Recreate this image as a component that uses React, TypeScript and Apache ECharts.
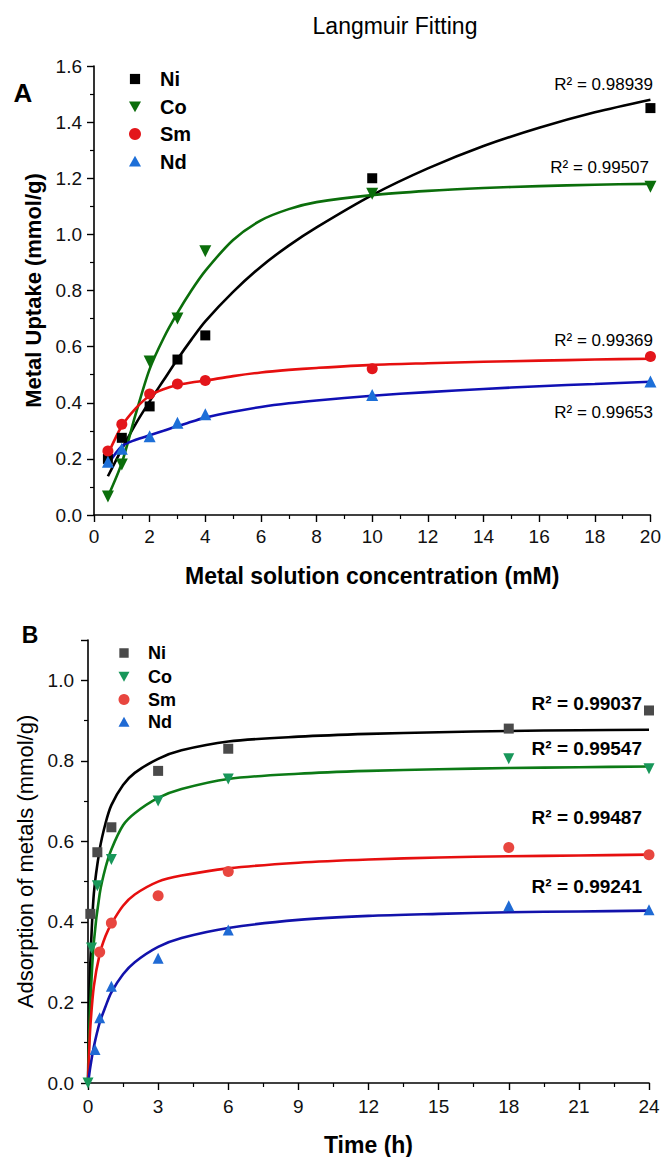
import React, { useEffect, useRef } from "react";
import * as echarts from "echarts";

const FONT = "'Liberation Sans', Arial, Helvetica, sans-serif";

// ---------- Panel A : Langmuir isotherm ----------
const concA = [0.5, 1, 2, 3, 4, 10, 20];
const niA = [0.2, 0.275, 0.387, 0.554, 0.64, 1.2, 1.45];
const coA = [0.066, 0.18, 0.547, 0.7, 0.94, 1.145, 1.17];
const smA = [0.228, 0.323, 0.431, 0.467, 0.479, 0.521, 0.565];
const ndA = [0.19, 0.236, 0.281, 0.329, 0.359, 0.428, 0.476];

const fitXA = [0.5, 1, 1.5, 2, 2.5, 3, 3.5, 4, 5, 6, 7, 8, 10, 12, 14, 16, 18, 20];
const niFitA = [0.138, 0.235, 0.325, 0.405, 0.48, 0.555, 0.625, 0.69, 0.795, 0.885, 0.96, 1.025, 1.14, 1.235, 1.315, 1.38, 1.435, 1.48];
const coFitA = [0.066, 0.186, 0.36, 0.52, 0.63, 0.72, 0.8, 0.87, 0.98, 1.05, 1.09, 1.115, 1.14, 1.155, 1.165, 1.172, 1.177, 1.18];
const smFitA = [0.216, 0.317, 0.38, 0.425, 0.448, 0.463, 0.472, 0.479, 0.495, 0.508, 0.517, 0.524, 0.535, 0.541, 0.546, 0.55, 0.554, 0.557];
const ndFitA = [0.18, 0.245, 0.268, 0.284, 0.3, 0.317, 0.332, 0.347, 0.368, 0.385, 0.398, 0.408, 0.425, 0.438, 0.449, 0.459, 0.467, 0.475];

const r2A = ["R² = 0.98939", "R² = 0.99507", "R² = 0.99369", "R² = 0.99653"];

// ---------- Panel B : kinetics ----------
const niTB = [0.1, 0.4, 1, 3, 6, 18, 24];
const niB = [0.42, 0.573, 0.635, 0.775, 0.83, 0.88, 0.925];
const coTB = [0, 0.15, 0.4, 1, 3, 6, 18, 24];
const coB = [0, 0.335, 0.49, 0.555, 0.7, 0.755, 0.805, 0.78];
const smTB = [0.5, 1, 3, 6, 18, 24];
const smB = [0.325, 0.397, 0.465, 0.525, 0.585, 0.567];
const ndTB = [0.3, 0.5, 1, 3, 6, 18, 24];
const ndB = [0.083, 0.162, 0.24, 0.31, 0.38, 0.44, 0.43];

const fitTB = [0, 0.05, 0.1, 0.25, 0.5, 0.75, 1, 1.5, 2, 3, 4, 6, 9, 12, 15, 18, 21, 24];
const niFitB = [0, 0.2, 0.3, 0.47, 0.58, 0.645, 0.69, 0.74, 0.77, 0.805, 0.826, 0.848, 0.86, 0.867, 0.871, 0.874, 0.876, 0.877];
const coFitB = [0, 0.12, 0.2, 0.35, 0.47, 0.535, 0.58, 0.64, 0.67, 0.708, 0.73, 0.755, 0.768, 0.775, 0.779, 0.782, 0.784, 0.786];
const smFitB = [0, 0.08, 0.14, 0.24, 0.32, 0.365, 0.395, 0.44, 0.468, 0.5, 0.515, 0.533, 0.547, 0.555, 0.56, 0.563, 0.565, 0.567];
const ndFitB = [0, 0.02, 0.04, 0.09, 0.15, 0.19, 0.225, 0.27, 0.3, 0.338, 0.36, 0.385, 0.405, 0.415, 0.42, 0.424, 0.426, 0.428];

const r2B = ["R² = 0.99037", "R² = 0.99547", "R² = 0.99487", "R² = 0.99241"];

const metals = ["Ni", "Co", "Sm", "Nd"];

const TRI_DOWN = "path://M0,0L12,0L6,11Z";
const TRI_UP = "path://M6,0L12,11L0,11Z";

const pairs = (xs: number[], ys: number[]) => xs.map((x, i) => [x, ys[i]]);

function axisBase(labelMargin: number) {
  return {
    type: "value",
    splitLine: { show: false },
    axisLine: { show: true, onZero: false, lineStyle: { color: "#000", width: 1.6 } },
    axisTick: { show: true, inside: false, length: 7, lineStyle: { color: "#000", width: 1.4 } },
    minorTick: { show: true, splitNumber: 2, length: 4, lineStyle: { color: "#000", width: 1.2 } },
    axisLabel: { color: "#111", fontSize: 19, fontFamily: FONT, margin: labelMargin },
    nameTextStyle: { color: "#000", fontFamily: FONT },
  };
}

function lineSeries(xi: number, yi: number, xs: number[], ys: number[], color: string, width = 2.6) {
  return {
    type: "line",
    xAxisIndex: xi,
    yAxisIndex: yi,
    data: pairs(xs, ys),
    showSymbol: false,
    smooth: 0.3,
    lineStyle: { color, width },
    z: 2,
    silent: true,
  };
}

function scatterSeries(xi: number, yi: number, xs: number[], ys: number[], symbol: string, size: number, color: string) {
  return {
    type: "scatter",
    xAxisIndex: xi,
    yAxisIndex: yi,
    data: pairs(xs, ys),
    symbol,
    symbolSize: size,
    itemStyle: { color, opacity: 1 },
    z: 3,
    clip: false,
  };
}

function legendGraphics(cx: number, tx: number, ys: number[], colors: string[], font: string, s: number) {
  const els: any[] = [];
  const h = s / 2;
  els.push({ type: "rect", shape: { x: cx - h * 0.85, y: ys[0] - h * 0.85, width: s * 0.85, height: s * 0.85 }, style: { fill: colors[0] } });
  els.push({ type: "polygon", shape: { points: [[cx - h, ys[1] - h * 0.85], [cx + h, ys[1] - h * 0.85], [cx, ys[1] + h * 0.95]] }, style: { fill: colors[1] } });
  els.push({ type: "circle", shape: { cx, cy: ys[2], r: h }, style: { fill: colors[2] } });
  els.push({ type: "polygon", shape: { points: [[cx - h, ys[3] + h * 0.85], [cx + h, ys[3] + h * 0.85], [cx, ys[3] - h * 0.95]] }, style: { fill: colors[3] } });
  metals.forEach((m, i) => {
    els.push({
      type: "text",
      x: tx,
      y: ys[i],
      style: { text: m, font, fill: "#000", align: "left", verticalAlign: "middle", textAlign: "left", textVerticalAlign: "middle" },
    });
  });
  return els;
}

function textEl(text: string, x: number, y: number, font: string, align = "right", rotation = 0) {
  return {
    type: "text",
    x,
    y,
    rotation,
    style: { text, font, fill: "#000", align, verticalAlign: "middle", textAlign: align, textVerticalAlign: "middle" },
  };
}

export default function App() {
  const ref = useRef<HTMLDivElement>(null);

  useEffect(() => {
    if (!ref.current) return;
    const chart = echarts.init(ref.current, null, { renderer: "svg" });

    const colA = { ni: "#000000", co: "#0b6e0b", sm: "#e3161b", smLine: "#e60f0f", nd: "#1d6fd8", ndLine: "#1010b4" };
    const colB = { ni: "#4a4a4a", niLine: "#000000", co: "#18975a", coLine: "#0c7a16", sm: "#e8463f", smLine: "#e60f0f", nd: "#1f6ad4", ndLine: "#1212ab" };

    const option: any = {
      animation: false,
      backgroundColor: "#ffffff",
      textStyle: { fontFamily: FONT },
      grid: [
        { left: 94, right: 13, top: 66, height: 449 },
        { left: 88, right: 15, top: 640, height: 445 },
      ],
      xAxis: [
        {
          ...axisBase(12),
          gridIndex: 0,
          min: 0,
          max: 20,
          interval: 2,
          name: "Metal solution concentration (mM)",
          nameLocation: "middle",
          nameGap: 49,
          nameTextStyle: { color: "#000", fontFamily: FONT, fontSize: 23, fontWeight: "bold" },
        },
        {
          ...axisBase(14),
          gridIndex: 1,
          min: 0,
          max: 24,
          interval: 3,
          name: "Time (h)",
          nameLocation: "middle",
          nameGap: 50,
          nameTextStyle: { color: "#000", fontFamily: FONT, fontSize: 23, fontWeight: "bold" },
        },
      ],
      yAxis: [
        {
          ...axisBase(12),
          gridIndex: 0,
          min: 0,
          max: 1.6,
          interval: 0.2,
          axisLabel: { color: "#111", fontSize: 19, fontFamily: FONT, margin: 12, formatter: (v: number) => v.toFixed(1) },
          name: "Metal Uptake (mmol/g)",
          nameLocation: "middle",
          nameRotate: 90,
          nameGap: 48,
          nameTextStyle: { color: "#000", fontFamily: FONT, fontSize: 22, fontWeight: "bold" },
        },
        {
          ...axisBase(14),
          gridIndex: 1,
          min: 0,
          max: 1.1,
          interval: 0.2,
          axisLabel: { color: "#111", fontSize: 19, fontFamily: FONT, margin: 14, showMaxLabel: false, formatter: (v: number) => v.toFixed(1) },
          name: "Adsorption of metals (mmol/g)",
          nameLocation: "middle",
          nameRotate: 90,
          nameGap: 49,
          nameTextStyle: { color: "#000", fontFamily: FONT, fontSize: 22, fontWeight: "normal" },
        },
      ],
      series: [
        lineSeries(0, 0, fitXA, niFitA, colA.ni),
        lineSeries(0, 0, fitXA, coFitA, colA.co),
        lineSeries(0, 0, fitXA, smFitA, colA.smLine),
        lineSeries(0, 0, fitXA, ndFitA, colA.ndLine),
        scatterSeries(0, 0, concA, niA, "rect", 10, colA.ni),
        scatterSeries(0, 0, concA, coA, TRI_DOWN, 12, colA.co),
        scatterSeries(0, 0, concA, smA, "circle", 11, colA.sm),
        scatterSeries(0, 0, concA, ndA, TRI_UP, 12, colA.nd),

        lineSeries(1, 1, fitTB, niFitB, colB.niLine),
        lineSeries(1, 1, fitTB, coFitB, colB.coLine),
        lineSeries(1, 1, fitTB, smFitB, colB.smLine),
        lineSeries(1, 1, fitTB, ndFitB, colB.ndLine),
        scatterSeries(1, 1, niTB, niB, "rect", 10, colB.ni),
        scatterSeries(1, 1, coTB, coB, TRI_DOWN, 11, colB.co),
        scatterSeries(1, 1, smTB, smB, "circle", 11, colB.sm),
        scatterSeries(1, 1, ndTB, ndB, TRI_UP, 11, colB.nd),
      ],
      graphic: [
        textEl("Langmuir Fitting", 395, 26, `23px ${FONT}`, "center"),
        textEl("A", 23, 93, `bold 26px ${FONT}`, "center"),
        textEl("B", 30, 635, `bold 23px ${FONT}`, "center"),
        ...legendGraphics(135, 160, [79, 106.5, 134, 161.5], [colA.ni, colA.co, colA.sm, colA.nd], `bold 20px ${FONT}`, 12),
        ...legendGraphics(124, 148, [653, 676.5, 699.5, 722], [colB.ni, colB.co, colB.sm, colB.nd], `bold 18px ${FONT}`, 11),
        textEl(r2A[0], 653, 84, `17px ${FONT}`),
        textEl(r2A[1], 649, 167, `17px ${FONT}`),
        textEl(r2A[2], 653, 340, `17px ${FONT}`),
        textEl(r2A[3], 653, 412, `17px ${FONT}`),
        textEl(r2B[0], 642, 703, `bold 19px ${FONT}`),
        textEl(r2B[1], 642, 748, `bold 19px ${FONT}`),
        textEl(r2B[2], 642, 817, `bold 19px ${FONT}`),
        textEl(r2B[3], 642, 886, `bold 19px ${FONT}`),
      ],
    };

    chart.setOption(option);
    return () => chart.dispose();
  }, []);

  return (
    <div
      ref={ref}
      style={{ position: "absolute", left: 0, top: 0, width: 664, height: 1157, background: "#fff" }}
    />
  );
}
